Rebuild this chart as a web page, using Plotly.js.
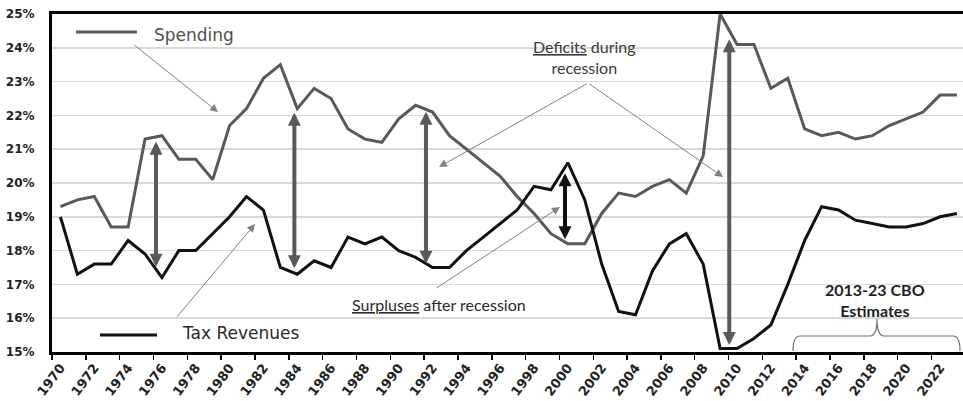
<!DOCTYPE html>
<html>
<head>
<meta charset="utf-8">
<script src="https://cdn.plot.ly/plotly-3.0.1.min.js"></script>
<style>html,body{margin:0;padding:0;background:#fff;overflow:hidden}#chart{width:963px;height:401px}</style>
</head>
<body>
<div id="chart"></div>
<script>
// ---- data (share of GDP, %) ----
const years = [1970,1971,1972,1973,1974,1975,1976,1977,1978,1979,
  1980,1981,1982,1983,1984,1985,1986,1987,1988,1989,
  1990,1991,1992,1993,1994,1995,1996,1997,1998,1999,
  2000,2001,2002,2003,2004,2005,2006,2007,2008,2009,
  2010,2011,2012,2013,2014,2015,2016,2017,2018,2019,
  2020,2021,2022,2023];
const spending = [19.3,19.5,19.6,18.7,18.7,21.3,21.4,20.7,20.7,20.1,
  21.7,22.2,23.1,23.5,22.2,22.8,22.5,21.6,21.3,21.2,
  21.9,22.3,22.1,21.4,21.0,20.6,20.2,19.6,19.1,18.5,
  18.2,18.2,19.1,19.7,19.6,19.9,20.1,19.7,20.8,25.0,
  24.1,24.1,22.8,23.1,21.6,21.4,21.5,21.3,21.4,21.7,
  21.9,22.1,22.6,22.6];
const taxRevenues = [19.0,17.3,17.6,17.6,18.3,17.9,17.2,18.0,18.0,18.5,
  19.0,19.6,19.2,17.5,17.3,17.7,17.5,18.4,18.2,18.4,
  18.0,17.8,17.5,17.5,18.0,18.4,18.8,19.2,19.9,19.8,
  20.6,19.5,17.6,16.2,16.1,17.4,18.2,18.5,17.6,15.1,
  15.1,15.4,15.8,17.0,18.3,19.3,19.2,18.9,18.8,18.7,
  18.7,18.8,19.0,19.1];
const seriesNames = ['Spending', 'Tax Revenues'];
const yTicks = [15,16,17,18,19,20,21,22,23,24,25];

// ---- layout helpers (pixel -> paper) ----
const M = {l:52, r:0, t:14, b:49};
const W = 963, H = 401;
const PW = W - M.l - M.r, PH = H - M.t - M.b;
const px = x => (x - M.l) / PW;
const py = y => (H - M.b - y) / PH;

const cats = years.map(String);

const traces = [
  {x: cats, y: spending, name: seriesNames[0], type: 'scatter', mode: 'lines',
   line: {color: '#595959', width: 3}, hoverinfo: 'x+y'},
  {x: cats, y: taxRevenues, name: seriesNames[1], type: 'scatter', mode: 'lines',
   line: {color: '#111111', width: 3}, hoverinfo: 'x+y'}
];

// thick double arrows (category index, value)
function dbl(idx, top, bottom, color) {
  return {x: idx, y: top, ax: idx, ay: bottom, xref: 'x', yref: 'y', axref: 'x', ayref: 'y',
    text: '', showarrow: true, arrowside: 'end+start', arrowhead: 2, startarrowhead: 2,
    arrowsize: 0.65, startarrowsize: 0.65, arrowwidth: 4, arrowcolor: color,
    standoff: 0, startstandoff: 0};
}
// thin pointer arrows in pixels: tail -> tip
function thin(tx, ty, hx, hy) {
  return {x: px(hx), y: py(hy), xref: 'paper', yref: 'paper', axref: 'pixel', ayref: 'pixel',
    ax: tx - hx, ay: ty - hy, text: '', showarrow: true, arrowhead: 2, arrowsize: 1.6,
    arrowwidth: 1, arrowcolor: '#808080', standoff: 0};
}
function label(text, x, y, font, xanchor) {
  return {text: text, x: px(x), y: py(y), xref: 'paper', yref: 'paper', showarrow: false,
    xanchor: xanchor || 'center', yanchor: 'middle', font: font};
}

const annotations = [
  dbl(5.65, 21.22, 17.48, '#595959'),
  dbl(13.83, 22.08, 17.43, '#595959'),
  dbl(21.61, 22.11, 17.57, '#595959'),
  dbl(29.83, 20.29, 18.29, '#111111'),
  dbl(39.54, 24.25, 15.16, '#595959'),
  thin(133, 44, 218, 112),
  thin(176, 318, 255, 224),
  thin(588, 83, 439, 167),
  thin(588, 83, 723, 177),
  thin(435, 289, 560, 207),
  label(seriesNames[0], 152, 35, {family: 'DejaVu Sans', size: 17, color: '#505050'}, 'left'),
  label(seriesNames[1], 180, 333, {family: 'DejaVu Sans', size: 17, color: '#2a2a2a'}, 'left'),
  label('<u>Deficits</u> during<br>recession', 584, 57, {family: 'Lato', size: 16, color: '#3a3a3a'}),
  label('<u>Surpluses</u> after recession', 439, 304, {family: 'Lato', size: 16, color: '#2a2a2a'}),
  label('<b>2013-23 CBO<br>Estimates</b>', 875, 300, {family: 'Lato', size: 16, color: '#1e1e1e'})
];

const bracePath = 'M' + px(793) + ',' + py(351) +
  ' Q' + px(793) + ',' + py(336) + ' ' + px(800) + ',' + py(336) +
  ' L' + px(870) + ',' + py(336) +
  ' Q' + px(877) + ',' + py(336) + ' ' + px(877) + ',' + py(319) +
  ' Q' + px(877) + ',' + py(336) + ' ' + px(884) + ',' + py(336) +
  ' L' + px(953) + ',' + py(336) +
  ' Q' + px(960) + ',' + py(336) + ' ' + px(960) + ',' + py(351);

const shapes = [
  {type: 'line', xref: 'paper', yref: 'paper', x0: px(76), x1: px(137), y0: py(32), y1: py(32),
   line: {color: '#595959', width: 3}},
  {type: 'line', xref: 'paper', yref: 'paper', x0: px(100), x1: px(157), y0: py(335), y1: py(335),
   line: {color: '#111111', width: 3}},
  {type: 'path', xref: 'paper', yref: 'paper', path: bracePath, line: {color: '#707070', width: 1.2}}
];

const layout = {
  width: W, height: H, margin: M,
  paper_bgcolor: '#fff', plot_bgcolor: '#fff', showlegend: false,
  xaxis: {type: 'category', range: [-0.5, 53.36], tickmode: 'linear', tick0: 0, dtick: 2,
    tickson: 'boundaries', ticks: 'outside', ticklen: 5, tickwidth: 1.5, tickcolor: '#000',
    tickangle: -53, tickfont: {family: 'DejaVu Sans', size: 13, weight: 'bold', color: '#222'},
    showline: true, linewidth: 3, linecolor: '#000', mirror: true, showgrid: false, zeroline: false},
  yaxis: {range: [15, 25], tickmode: 'array', tickvals: yTicks, ticktext: yTicks.map(v => v + '%'),
    tickfont: {family: 'DejaVu Sans', size: 12, weight: 'bold', color: '#222'},
    showgrid: true, gridcolor: '#d9d9d9', gridwidth: 1.5, showline: true, linewidth: 3,
    linecolor: '#000', zeroline: false, ticks: '', ticklabelstandoff: 12},
  annotations: annotations,
  shapes: shapes
};

Plotly.newPlot('chart', traces, layout, {displayModeBar: false, staticPlot: true});
</script>
</body>
</html>
